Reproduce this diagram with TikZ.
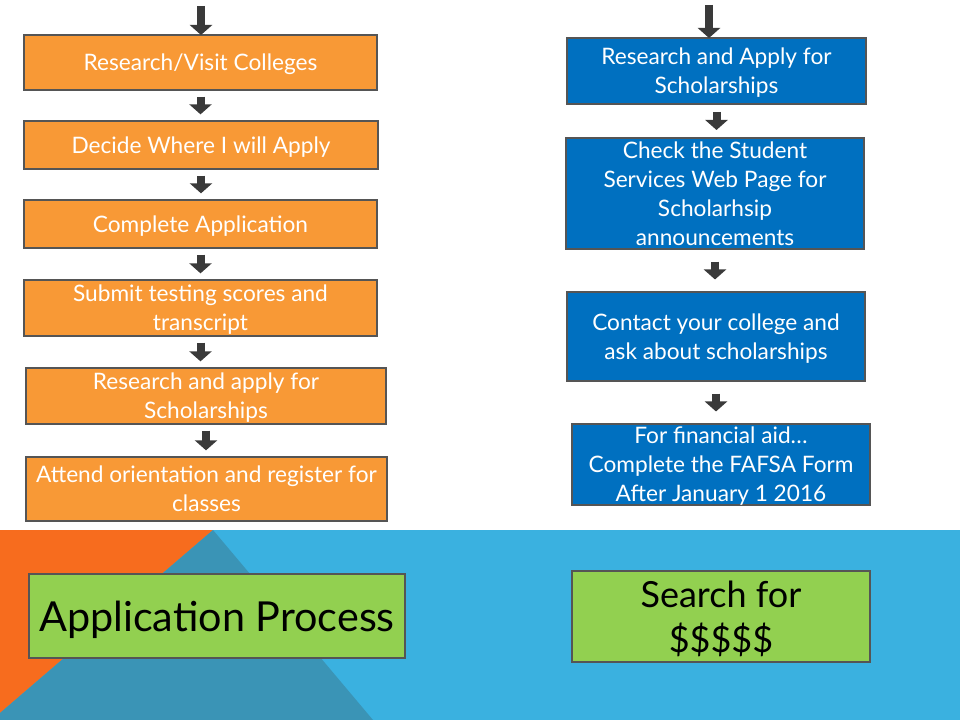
\documentclass[tikz,border=0pt]{standalone}
\usepackage{fontspec}
\setmainfont{Lato}
\usetikzlibrary{arrows.meta}

\definecolor{boxorange}{RGB}{248,153,54}
\definecolor{boxblue}{RGB}{0,112,192}
\definecolor{boxgreen}{RGB}{146,208,80}
\definecolor{edgegray}{RGB}{85,85,85}
\definecolor{arrowgray}{RGB}{58,58,58}
\definecolor{bandblue}{RGB}{58,177,224}
\definecolor{bandorange}{RGB}{247,108,30}
\definecolor{banddark}{RGB}{58,148,182}

\tikzset{
  stepbase/.style={rectangle, draw=edgegray, line width=2pt, align=center, inner sep=0pt, outer sep=0pt, text depth=0pt},
  orangebox/.style={stepbase, fill=boxorange, text=white, font=\fontsize{17}{21.75}\selectfont},
  bluebox/.style={stepbase, fill=boxblue, text=white, font=\fontsize{17}{21.75}\selectfont},
  greenbox/.style={stepbase, fill=boxgreen, text=black},
  blockarrow/.style={draw=arrowgray, line width=6pt, -{Triangle[width=16.5pt,length=7.5pt]}, shorten <=#1, shorten >=#1},
  blockarrow/.default=5pt
}

\begin{document}
\begin{tikzpicture}[x=0.75pt,y=-0.75pt]
  \useasboundingbox (0,0) rectangle (960,720);
  % background band
  \fill[white] (0,0) rectangle (960,720);
  \fill[bandblue] (0,530) rectangle (960,720);
  \fill[bandorange] (0,530) -- (213,530) -- (0,713) -- cycle;
  \fill[banddark] (213,530) -- (373,720) -- (0,720) -- (0,713) -- cycle;

  % left column
  \node[orangebox, minimum width=353*0.75pt, minimum height=55*0.75pt] (visit) at (200.5,62.5) {Research/Visit Colleges};
  \node[orangebox, minimum width=354*0.75pt, minimum height=48*0.75pt] (decide) at (201,145) {Decide Where I will Apply};
  \node[orangebox, minimum width=353*0.75pt, minimum height=48*0.75pt] (complete) at (200.5,224) {Complete Application};
  \node[orangebox, minimum width=353*0.75pt, minimum height=56*0.75pt] (submit) at (200.5,308) {Submit testing scores and\\transcript};
  \node[orangebox, minimum width=360*0.75pt, minimum height=56*0.75pt] (apply) at (206,396) {Research and apply for\\Scholarships};
  \node[orangebox, minimum width=361*0.75pt, minimum height=64*0.75pt] (attend) at (206.5,489) {Attend orientation and register for\\classes};

  % right column
  \node[bluebox, minimum width=299*0.75pt, minimum height=66*0.75pt] (scholar) at (716.5,71) {Research and Apply for\\Scholarships};
  \node[bluebox, minimum width=298*0.75pt, minimum height=111*0.75pt] (webpage) at (715,193.5) {Check the Student\\Services Web Page for\\Scholarhsip\\announcements};
  \node[bluebox, minimum width=298*0.75pt, minimum height=89*0.75pt] (contact) at (716,336.5) {Contact your college and\\ask about scholarships};
  \node[bluebox, minimum width=298*0.75pt, minimum height=81*0.75pt] (fafsa) at (721,464.5) {For financial aid\dots\\Complete the FAFSA Form\\After January 1 2016};

  % titles
  \node[greenbox, minimum width=376*0.75pt, minimum height=84*0.75pt, font=\fontsize{31}{36}\selectfont] (apptitle) at (217,616) {Application Process};
  \node[greenbox, minimum width=298*0.75pt, minimum height=91*0.75pt, font=\fontsize{27}{34}\selectfont] (searchtitle) at (721,616.5) {Search for\\\$\$\$\$\$};

  % arrows
  \coordinate (ltop) at (201,6);
  \coordinate (rtop) at (709,5);
  \draw[blockarrow=0pt] (ltop) -- (ltop |- visit.north);
  \draw[blockarrow] (visit.south) -- (visit.south |- decide.north);
  \draw[blockarrow] (decide.south) -- (decide.south |- complete.north);
  \draw[blockarrow] (complete.south) -- (complete.south |- submit.north);
  \draw[blockarrow] (submit.south) -- (submit.south |- apply.north);
  \draw[blockarrow] (apply.south) -- (apply.south |- attend.north);
  \draw[blockarrow=0pt] (rtop) -- (rtop |- scholar.north);
  \draw[blockarrow=6pt] (scholar.south) -- (scholar.south |- webpage.north);
  \draw[blockarrow=9.4pt] (webpage.south) -- (webpage.south |- contact.north);
  \draw[blockarrow=9.4pt] (contact.south) -- (contact.south |- fafsa.north);
\end{tikzpicture}
\end{document}
